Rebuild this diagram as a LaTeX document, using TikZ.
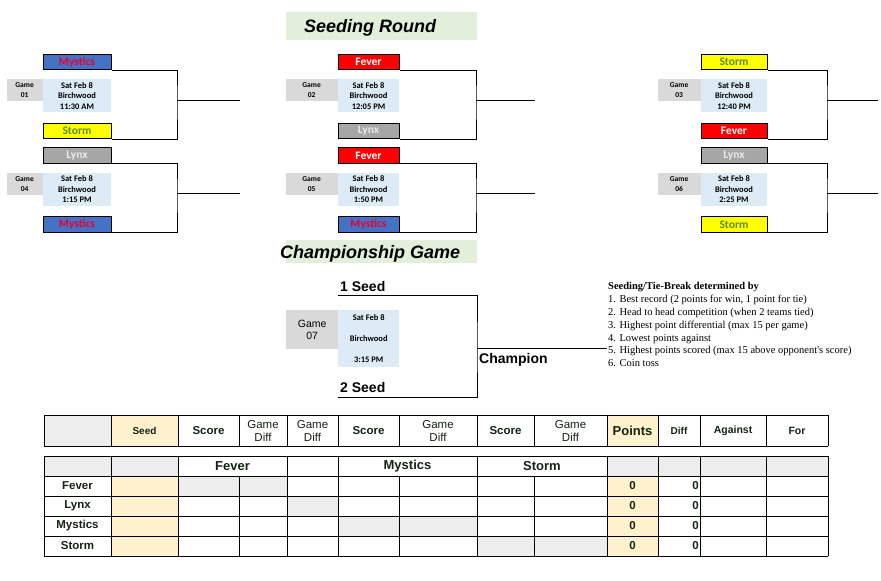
\documentclass[tikz,border=0pt]{standalone}
\usepackage{fontspec}
\usepackage{xcolor}
\usepackage{tikz}
\usetikzlibrary{positioning,calc}
\newfontfamily\arialfont{Liberation Sans}
\newfontfamily\calibrifont{Carlito}
\newfontfamily\timesfont{Liberation Serif}
\definecolor{mysticsblue}{RGB}{68,114,196}
\definecolor{mysticsred}{RGB}{235,0,45}
\definecolor{feverred}{RGB}{255,0,0}
\definecolor{stormyellow}{RGB}{255,255,0}
\definecolor{stormgreen}{RGB}{96,140,40}
\definecolor{lynxgray}{RGB}{166,166,166}
\definecolor{lynxtext}{RGB}{235,235,235}
\definecolor{infoblue}{RGB}{221,235,247}
\definecolor{labelgray}{RGB}{217,217,217}
\definecolor{titlegreen}{RGB}{226,239,218}
\definecolor{cellgray}{RGB}{237,237,237}
\definecolor{cellyellow}{RGB}{255,242,204}
\definecolor{tabletext}{RGB}{20,35,20}
\tikzset{
    team/.style={
        rectangle,
        draw=black,
        line width=1pt,
        minimum height=15.5pt,
        inner sep=0pt,
        font=\calibrifont\bfseries\fontsize{11.5}{12}\selectfont
    },
    mystics/.style={team, fill=mysticsblue, text=mysticsred},
    fever/.style={team, fill=feverred, text=white},
    storm/.style={team, fill=stormyellow, text=stormgreen},
    lynx/.style={team, fill=lynxgray, text=lynxtext},
    colA/.style={minimum width=68pt},
    colB/.style={minimum width=61pt},
    colC/.style={minimum width=66pt},
    gameinfo/.style={
        rectangle,
        fill=infoblue,
        minimum height=33pt,
        inner sep=0pt,
        align=center,
        font=\calibrifont\bfseries\fontsize{8.5}{10.5}\selectfont
    },
    gamelabel/.style={
        rectangle,
        fill=labelgray,
        minimum height=22pt,
        inner sep=0pt,
        align=center,
        font=\calibrifont\bfseries\fontsize{7.5}{10}\selectfont
    },
    bracket/.style={draw=black, line width=1pt},
    titlebar/.style={rectangle, fill=titlegreen, inner sep=0pt},
    titletext/.style={inner sep=0pt, font=\arialfont\bfseries\itshape\fontsize{18}{20}\selectfont},
    seedtext/.style={inner sep=0pt, font=\arialfont\bfseries\fontsize{14}{16}\selectfont},
    gridline/.style={draw=black, line width=0.8pt},
    headtext/.style={inner sep=0pt, align=center, text=tabletext, font=\arialfont\bfseries\fontsize{11.5}{13}\selectfont},
    smallhead/.style={headtext, font=\arialfont\bfseries\fontsize{10}{12}\selectfont},
    cellname/.style={inner sep=0pt, text=tabletext, font=\arialfont\bfseries\fontsize{11.5}{13}\selectfont}
}

\begin{document}
\begin{tikzpicture}[x=1pt, y=-1pt, node distance=0pt]
\useasboundingbox (0,0) rectangle (881,581);

% Seeding Round title
\node[titlebar, minimum width=191pt, minimum height=28pt, anchor=north west] (seed-bar) at (286,12) {};
\node[titletext, anchor=base west] (seed-title) at (304,32) {Seeding Round};

% Game 01
\node[mystics, colA] (g1-top) at (77,62) {Mystics};
\node[gameinfo, colA, below=9pt of g1-top] (g1-info) {Sat Feb 8\\Birchwood\\11:30 AM};
\node[gamelabel, minimum width=36pt, anchor=north east] (g1-label) at (g1-info.north west) {Game\\01};
\node[storm, colA, below=10pt of g1-info] (g1-bot) {Storm};
\coordinate (g1-joint) at (177,100);
\coordinate (g1-end) at (240,100);

% Game 04
\node[lynx, colA] (g4-top) at (77,155.5) {Lynx};
\node[gameinfo, colA, below=9pt of g4-top] (g4-info) {Sat Feb 8\\Birchwood\\1:15 PM};
\node[gamelabel, minimum width=36pt, anchor=north east] (g4-label) at (g4-info.north west) {Game\\04};
\node[mystics, colA, below=10pt of g4-info] (g4-bot) {Mystics};
\coordinate (g4-joint) at (177,193.5);
\coordinate (g4-end) at (240,193.5);

% Game 02
\node[fever, colB] (g2-top) at (368.5,62) {Fever};
\node[gameinfo, colB, below=9pt of g2-top] (g2-info) {Sat Feb 8\\Birchwood\\12:05 PM};
\node[gamelabel, minimum width=52pt, anchor=north east] (g2-label) at (g2-info.north west) {Game\\02};
\node[lynx, colB, below=10pt of g2-info] (g2-bot) {Lynx};
\coordinate (g2-joint) at (476,100);
\coordinate (g2-end) at (535,100);

% Game 05
\node[fever, colB] (g5-top) at (368.5,155.5) {Fever};
\node[gameinfo, colB, below=9pt of g5-top] (g5-info) {Sat Feb 8\\Birchwood\\1:50 PM};
\node[gamelabel, minimum width=52pt, anchor=north east] (g5-label) at (g5-info.north west) {Game\\05};
\node[mystics, colB, below=10pt of g5-info] (g5-bot) {Mystics};
\coordinate (g5-joint) at (476,193.5);
\coordinate (g5-end) at (535,193.5);

% Game 03
\node[storm, colC] (g3-top) at (734,62) {Storm};
\node[gameinfo, colC, below=9pt of g3-top] (g3-info) {Sat Feb 8\\Birchwood\\12:40 PM};
\node[gamelabel, minimum width=43pt, anchor=north east] (g3-label) at (g3-info.north west) {Game\\03};
\node[fever, colC, below=10pt of g3-info] (g3-bot) {Fever};
\coordinate (g3-joint) at (827,100);
\coordinate (g3-end) at (878,100);

% Game 06
\node[lynx, colC] (g6-top) at (734,155.5) {Lynx};
\node[gameinfo, colC, below=9pt of g6-top] (g6-info) {Sat Feb 8\\Birchwood\\2:25 PM};
\node[gamelabel, minimum width=43pt, anchor=north east] (g6-label) at (g6-info.north west) {Game\\06};
\node[storm, colC, below=10pt of g6-info] (g6-bot) {Storm};
\coordinate (g6-joint) at (827,193.5);
\coordinate (g6-end) at (878,193.5);

% brackets
\foreach \g in {1,2,3,4,5,6} {
    \draw[bracket] (g\g-top.south east) -| (g\g-joint) |- (g\g-bot.south east);
    \draw[bracket] (g\g-joint) -- (g\g-end);
}

% Championship Game
\node[titlebar, minimum width=191pt, minimum height=23pt, anchor=north west] (final-bar) at (286,240) {};
\node[titletext, anchor=base west] (final-title) at (280,258) {Championship Game};
\coordinate (final-top) at (338,295);
\coordinate (final-bot) at (338,397);
\coordinate (final-joint) at (477,348);
\coordinate (final-end) at (607,348);
\node[seedtext, anchor=base west] (seed-one) at (340,291) {1 Seed};
\node[seedtext, anchor=base west] (seed-two) at (340,392) {2 Seed};
\node[seedtext, anchor=base west] (champion) at (479,363) {Champion};
\node[gamelabel, minimum width=52pt, minimum height=39pt, anchor=north west, font=\arialfont\fontsize{10.5}{12}\selectfont] (g7-label) at (286,310) {Game\\07};
\node[gameinfo, minimum width=61pt, minimum height=57pt, anchor=north west, font=\calibrifont\bfseries\fontsize{8.5}{21}\selectfont] (g7-info) at (338,310) {Sat Feb 8\\Birchwood\\3:15 PM};
\draw[bracket] (final-top) -| (final-joint) |- (final-bot);
\draw[bracket] (final-joint) -- (final-end);

% tie-break rules
\node[anchor=north west, inner sep=0pt, align=left, font=\timesfont\fontsize{10.5}{12.9}\selectfont] (tiebreak) at (608,282) {
    \textbf{Seeding/Tie-Break determined by}\\
    1. Best record (2 points for win, 1 point for tie)\\
    2. Head to head competition (when 2 teams tied)\\
    3. Highest point differential (max 15 per game)\\
    4. Lowest points against\\
    5. Highest points scored (max 15 above opponent's score)\\
    6. Coin toss
};

% standings header
\fill[cellgray] (44,415) rectangle (111,446);
\fill[cellyellow] (111,415) rectangle (178,446);
\fill[cellyellow] (607,415) rectangle (658,446);
\draw[gridline] (44,415) -- (828,415) (44,446) -- (828,446);
\foreach \x in {44,111,178,239,287,338,399,477,534,607,658,700,766,828}
    \draw[gridline] (\x,415) -- (\x,446);
\node[smallhead] (h-seed) at (144.5,430.5) {Seed};
\node[headtext] (h-score1) at (208.5,430.5) {Score};
\node[headtext, font=\arialfont\fontsize{11.5}{13}\selectfont] (h-diff1) at (263,430.5) {Game\\Diff};
\node[headtext, font=\arialfont\fontsize{11.5}{13}\selectfont] (h-diff2) at (312.5,430.5) {Game\\Diff};
\node[headtext] (h-score2) at (368.5,430.5) {Score};
\node[headtext, font=\arialfont\fontsize{11.5}{13}\selectfont] (h-diff3) at (438,430.5) {Game\\Diff};
\node[headtext] (h-score3) at (505.5,430.5) {Score};
\node[headtext, font=\arialfont\fontsize{11.5}{13}\selectfont] (h-diff4) at (570.5,430.5) {Game\\Diff};
\node[headtext, font=\arialfont\bfseries\fontsize{13}{15}\selectfont] (h-points) at (632.5,430.5) {Points};
\node[smallhead] (h-diff) at (679,430.5) {Diff};
\node[smallhead, font=\arialfont\bfseries\fontsize{10.5}{12}\selectfont] (h-against) at (733,430.5) {Against};
\node[smallhead, font=\arialfont\bfseries\fontsize{10.5}{12}\selectfont] (h-for) at (797,430.5) {For};

% standings body
\fill[cellgray] (44,456) rectangle (178,476);
\fill[cellgray] (607,456) rectangle (828,476);
\fill[cellyellow] (111,476) rectangle (178,556);
\fill[cellyellow] (607,476) rectangle (658,556);
\fill[cellgray] (178,476) rectangle (287,496);
\fill[cellgray] (287,496) rectangle (338,516);
\fill[cellgray] (338,516) rectangle (477,536);
\fill[cellgray] (477,536) rectangle (607,556);
\foreach \y in {456,476,496,516,536,556}
    \draw[gridline] (44,\y) -- (828,\y);
\foreach \x in {44,111,178,287,338,477,607,658,700,766,828}
    \draw[gridline] (\x,456) -- (\x,476);
\foreach \x in {44,111,178,239,287,338,399,477,534,607,658,700,766,828}
    \draw[gridline] (\x,476) -- (\x,556);
\node[headtext, font=\arialfont\bfseries\fontsize{13}{15}\selectfont] (col-fever) at (232.5,466) {Fever};
\node[headtext, font=\arialfont\bfseries\fontsize{13}{15}\selectfont] (col-mystics) at (407.5,466) {Mystics};
\node[headtext, font=\arialfont\bfseries\fontsize{13}{15}\selectfont] (col-storm) at (542,466) {Storm};
\foreach \name [count=\i] in {Fever,Lynx,Mystics,Storm} {
    \node[cellname] (row-\name) at (77.5,{466+20*\i}) {\name};
    \node[cellname] (pts-\name) at (632.5,{466+20*\i}) {0};
    \node[cellname, anchor=east] (diff-\name) at (699,{466+20*\i}) {0};
}
\end{tikzpicture}
\end{document}
